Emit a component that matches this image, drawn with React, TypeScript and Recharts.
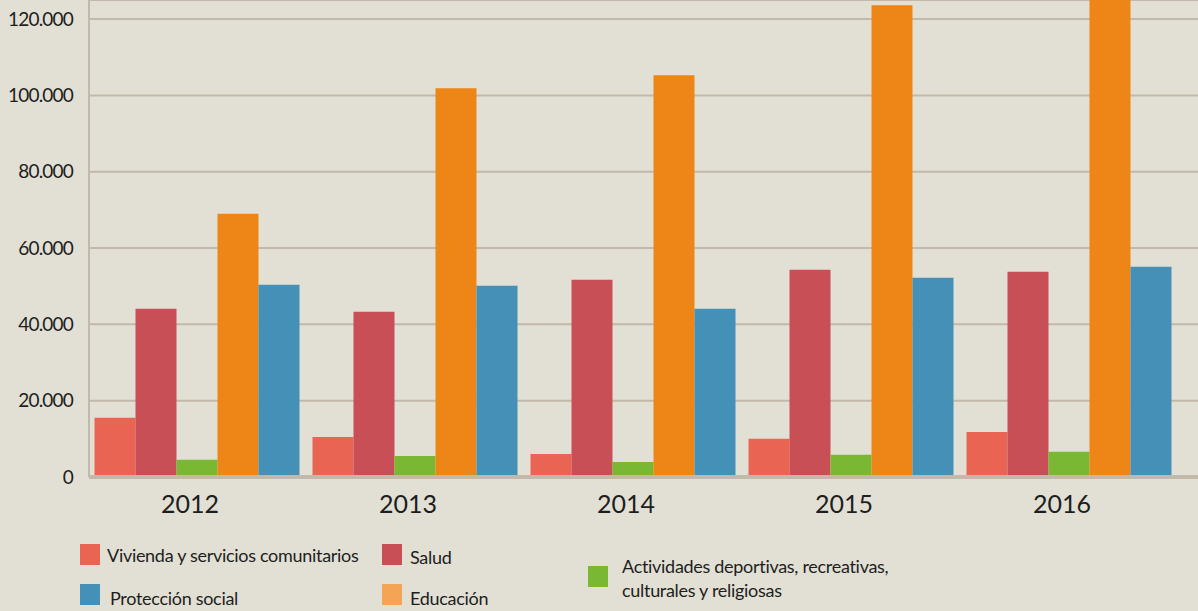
import { BarChart, Bar, XAxis, YAxis, CartesianGrid } from "recharts";

const years = ["2012", "2013", "2014", "2015", "2016"];
const vivienda = [15500, 10500, 6000, 10000, 11800];
const salud = [44100, 43300, 51700, 54300, 53800];
const actividades = [4500, 5500, 3900, 5800, 6600];
const educacion = [69000, 101900, 105300, 123600, 128000];
const proteccion = [50400, 50100, 44100, 52200, 55100];
const yTicks = [0, 20000, 40000, 60000, 80000, 100000, 120000];

const colors = {
  bg: "#e2e0d4",
  grid: "#c3b9ab",
  text: "#1e1e1e",
  vivienda: "#e96453",
  salud: "#c84f55",
  actividades: "#7ab833",
  educacion: "#ee8617",
  educacionLegend: "#f4a455",
  proteccion: "#4490b6",
};

const font = "Lato, sans-serif";

const rows = years.map((year, i) => ({
  year,
  vivienda: vivienda[i],
  salud: salud[i],
  actividades: actividades[i],
  educacion: educacion[i],
  proteccion: proteccion[i],
}));

const fmt = (v: number) => (v === 0 ? "0" : v.toLocaleString("de-DE"));

function Swatch({ x, y, color }: { x: number; y: number; color: string }) {
  return <div style={{ position: "absolute", left: x, top: y, width: 20, height: 21, background: color }} />;
}

function Label({ x, y, children }: { x: number; y: number; children: React.ReactNode }) {
  return (
    <div
      style={{
        position: "absolute",
        left: x,
        top: y,
        fontSize: 18,
        letterSpacing: -0.3,
        lineHeight: "24px",
        color: colors.text,
        fontFamily: font,
        whiteSpace: "nowrap",
      }}
    >
      {children}
    </div>
  );
}

export default function App() {
  return (
    <div style={{ position: "absolute", left: 0, top: 0, width: 1198, height: 611, background: colors.bg, overflow: "hidden" }}>
      <BarChart
        width={1198}
        height={517}
        data={rows}
        margin={{ top: 0, right: 0, bottom: 0, left: 0 }}
        barCategoryGap={5.5}
        barGap={0}
      >
        <CartesianGrid vertical={false} stroke={colors.grid} strokeWidth={2} />
        <XAxis
          dataKey="year"
          height={40}
          padding={{ left: 0, right: 19 }}
          tickLine={false}
          tickSize={0}
          tickMargin={18}
          axisLine={{ stroke: colors.grid, strokeWidth: 4 }}
          tick={{ fill: colors.text, fontSize: 25, fontFamily: font, dx: -8 }}
        />
        <YAxis
          width={89}
          domain={[0, 125000]}
          ticks={yTicks}
          allowDataOverflow
          tickFormatter={fmt}
          tickLine={false}
          tickSize={0}
          tickMargin={16}
          axisLine={{ stroke: colors.grid, strokeWidth: 2 }}
          tick={{ fill: colors.text, fontSize: 19, fontFamily: font, letterSpacing: -0.8 }}
        />
        <Bar dataKey="vivienda" fill={colors.vivienda} isAnimationActive={false} />
        <Bar dataKey="salud" fill={colors.salud} isAnimationActive={false} />
        <Bar dataKey="actividades" fill={colors.actividades} isAnimationActive={false} />
        <Bar dataKey="educacion" fill={colors.educacion} isAnimationActive={false} />
        <Bar dataKey="proteccion" fill={colors.proteccion} isAnimationActive={false} />
      </BarChart>

      <Swatch x={80} y={544} color={colors.vivienda} />
      <Label x={107} y={543}>Vivienda y servicios comunitarios</Label>
      <Swatch x={382} y={544} color={colors.salud} />
      <Label x={410} y={545}>Salud</Label>
      <Swatch x={80} y={584} color={colors.proteccion} />
      <Label x={110} y={586}>Protección social</Label>
      <Swatch x={382} y={584} color={colors.educacionLegend} />
      <Label x={410} y={586}>Educación</Label>
      <Swatch x={588} y={566} color={colors.actividades} />
      <Label x={622} y={554}>
        Actividades deportivas, recreativas,
        <br />
        culturales y religiosas
      </Label>
    </div>
  );
}
